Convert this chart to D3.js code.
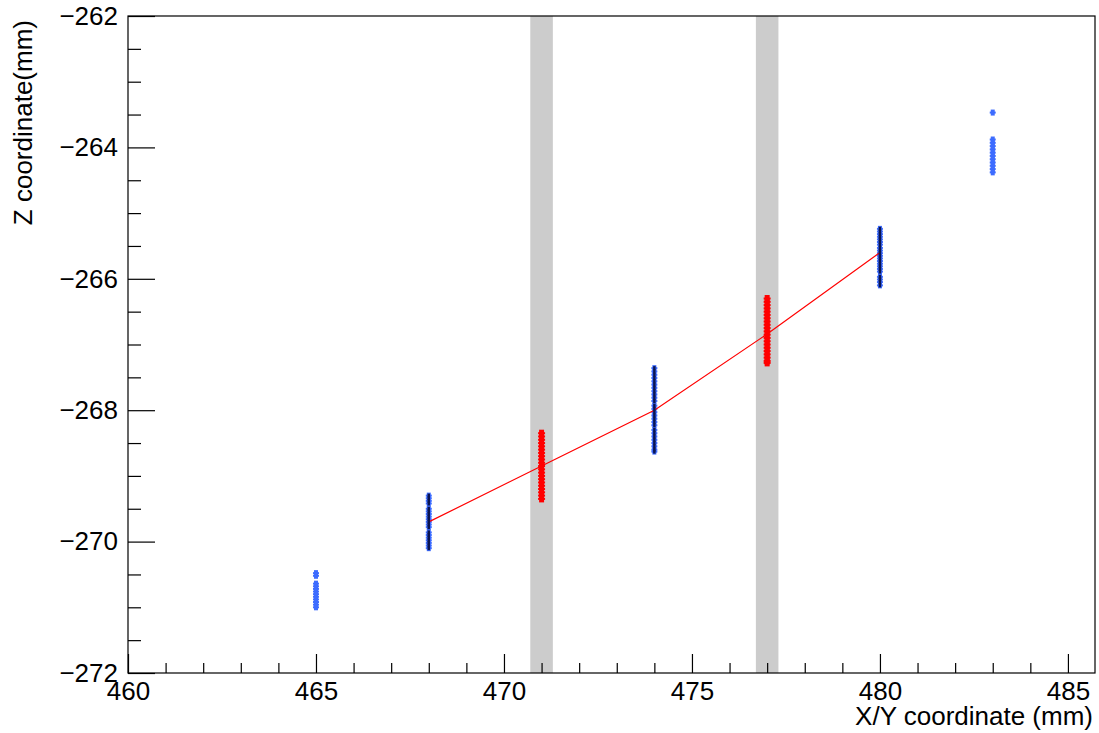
<!DOCTYPE html>
<html>
<head>
<meta charset="utf-8">
<script src="https://cdn.jsdelivr.net/npm/d3@7"></script>
<style>
  body { margin: 0; background: #ffffff; }
  svg text { font-family: 'Liberation Sans', Arial, Helvetica, sans-serif; }
</style>
</head>
<body>
<svg id="mainsvg" width="1099" height="733"></svg>
<script>
// axis ranges & tick values
const xDomain = [460, 485.72];
const yDomain = [-272, -262];
const xMajorTicks = [460, 465, 470, 475, 480, 485];
const xMinorTicks = [461, 462, 463, 464, 466, 467, 468, 469, 471, 472, 473, 474, 476, 477, 478, 479, 481, 482, 483, 484];
const yMajorTicks = [-272, -270, -268, -266, -264, -262];
const yMinorTicks = [-271.5, -271, -270.5, -269.5, -269, -268.5, -267.5, -267, -266.5, -265.5, -265, -264.5, -263.5, -263, -262.5];
const xAxisLabel = 'X/Y coordinate (mm)';
const yAxisLabel = 'Z coordinate(mm)';

// shaded layers (x ranges in mm)
const bandLeft = [470.7, 476.7];
const bandRight = [471.3, 477.3];

// hit clusters: x position and z values
const z465 = [-270.48, -270.52, -270.64, -270.68, -270.72, -270.76, -270.80, -270.84, -270.88, -270.92, -270.96, -271.00];
const z468 = [-269.30, -269.34, -269.38, -269.42, -269.50, -269.54, -269.58, -269.62, -269.66, -269.70, -269.74, -269.78,
              -269.86, -269.90, -269.94, -269.98, -270.02, -270.06, -270.10];
const z471 = [-268.35, -268.40, -268.45, -268.50, -268.55, -268.60, -268.65, -268.70, -268.75, -268.80, -268.85, -268.90,
              -268.95, -269.00, -269.05, -269.10, -269.15, -269.20, -269.25, -269.30, -269.35];
const z474 = [-267.36, -267.41, -267.46, -267.51, -267.56, -267.61, -267.66, -267.71, -267.76, -267.81, -267.86, -267.93,
              -267.98, -268.03, -268.08, -268.13, -268.18, -268.23, -268.30, -268.35, -268.40, -268.45, -268.50, -268.55,
              -268.60, -268.63];
const z477 = [-266.30, -266.35, -266.40, -266.45, -266.50, -266.55, -266.60, -266.65, -266.70, -266.75, -266.80, -266.85,
              -266.90, -266.95, -267.00, -267.05, -267.10, -267.15, -267.20, -267.25, -267.28];
const z480 = [-265.24, -265.28, -265.32, -265.36, -265.40, -265.44, -265.48, -265.53, -265.57, -265.61, -265.65, -265.69,
              -265.73, -265.77, -265.81, -265.85, -265.89, -265.97, -266.01, -266.05, -266.10];
const z483 = [-263.47, -263.88, -263.93, -263.98, -264.03, -264.08, -264.13, -264.18, -264.23, -264.28, -264.33, -264.38];

// fitted track
const fitX = [468, 471, 474, 477, 480];
const fitZ = [-269.70, -268.85, -268.00, -266.84, -265.60];

const svg = d3.select('#mainsvg');
const width = +svg.attr('width');
const height = +svg.attr('height');
const margin = { top: 16, right: 4, bottom: 60, left: 128 };
const innerWidth = width - margin.left - margin.right;
const innerHeight = height - margin.top - margin.bottom;

const lightBlue = '#3d6cff';
const navy = '#0a1450';

const xScale = d3.scaleLinear().domain(xDomain).range([0, innerWidth]);
const yScale = d3.scaleLinear().domain(yDomain).range([innerHeight, 0]);

const g = svg.append('g')
    .attr('transform', `translate(${margin.left}, ${margin.top})`);

// gray layers
g.selectAll('.band').data(bandLeft).enter().append('rect')
    .attr('class', 'band')
    .attr('x', d => xScale(d))
    .attr('y', 0)
    .attr('width', (d, i) => xScale(bandRight[i]) - xScale(d))
    .attr('height', innerHeight)
    .attr('fill', '#cccccc');

// build point lists
const clusters = [
    { x: 465, z: z465, kind: 'light' },
    { x: 468, z: z468, kind: 'dark' },
    { x: 471, z: z471, kind: 'red' },
    { x: 474, z: z474, kind: 'dark' },
    { x: 477, z: z477, kind: 'red' },
    { x: 480, z: z480, kind: 'dark' },
    { x: 483, z: z483, kind: 'light' }
];
const points = [];
clusters.forEach(c => c.z.forEach(z => points.push({ x: c.x, z: z, kind: c.kind })));

// small cross-like marker
const marker = (sel, r, color) => {
    sel.append('rect')
        .attr('x', d => xScale(d.x) - r)
        .attr('y', d => yScale(d.z) - 1)
        .attr('width', 2 * r).attr('height', 2)
        .attr('fill', color);
    sel.append('rect')
        .attr('x', d => xScale(d.x) - r + 1)
        .attr('y', d => yScale(d.z) - r)
        .attr('width', 2 * r - 2).attr('height', 2 * r)
        .attr('fill', color);
};

const blueHits = g.selectAll('.hit').data(points.filter(d => d.kind !== 'red')).enter().append('g')
    .attr('class', 'hit');
marker(blueHits, 3, lightBlue);

const redHits = g.selectAll('.redhit').data(points.filter(d => d.kind === 'red')).enter().append('g')
    .attr('class', 'redhit');
marker(redHits, 3.5, '#ff0000');

// fitted line
const line = d3.line().x(d => xScale(d[0])).y(d => yScale(d[1]));
g.append('path')
    .datum(fitX.map((x, i) => [x, fitZ[i]]))
    .attr('d', line)
    .attr('fill', 'none')
    .attr('stroke', '#ff0000')
    .attr('stroke-width', 1.2);

// dark cores on top
g.selectAll('.core').data(points.filter(d => d.kind === 'dark')).enter().append('rect')
    .attr('class', 'core')
    .attr('x', d => xScale(d.x) - 1.2)
    .attr('y', d => yScale(d.z) - 2)
    .attr('width', 2.4)
    .attr('height', 4)
    .attr('fill', navy);

// axes: major + minor ticks pointing inward
const fontSize = 26;
const xMajor = d3.axisBottom(xScale).tickValues(xMajorTicks).tickSize(-19).tickPadding(9).tickFormat(d3.format('d'));
const xMinor = d3.axisBottom(xScale).tickValues(xMinorTicks).tickSize(-10).tickFormat('');
const yMajor = d3.axisLeft(yScale).tickValues(yMajorTicks).tickSize(-27).tickPadding(10)
    .tickFormat(d => '\u2212' + Math.abs(d));
const yMinor = d3.axisLeft(yScale).tickValues(yMinorTicks).tickSize(-13).tickFormat('');

[xMajor, xMinor].forEach(ax => {
    const a = g.append('g').attr('transform', `translate(0, ${innerHeight})`).call(ax);
    a.selectAll('.domain').remove();
    a.selectAll('line').attr('stroke', '#000').attr('stroke-width', 1.2);
    a.selectAll('text').attr('font-size', fontSize + 'px').attr('fill', '#000');
});
[yMajor, yMinor].forEach(ax => {
    const a = g.append('g').call(ax);
    a.selectAll('.domain').remove();
    a.selectAll('line').attr('stroke', '#000').attr('stroke-width', 1.2);
    a.selectAll('text').attr('font-size', fontSize + 'px').attr('fill', '#000');
});

// frame
g.append('rect')
    .attr('x', 0).attr('y', 0)
    .attr('width', innerWidth).attr('height', innerHeight)
    .attr('fill', 'none')
    .attr('stroke', '#000')
    .attr('stroke-width', 1.2);

// axis titles (right / top aligned)
svg.append('text')
    .attr('x', margin.left + innerWidth - 2)
    .attr('y', 725)
    .attr('text-anchor', 'end')
    .attr('font-size', '26px')
    .attr('fill', '#000')
    .text(xAxisLabel);

svg.append('text')
    .attr('transform', `translate(32, 20) rotate(-90)`)
    .attr('text-anchor', 'end')
    .attr('font-size', '26px')
    .attr('fill', '#000')
    .text(yAxisLabel);
</script>
</body>
</html>
